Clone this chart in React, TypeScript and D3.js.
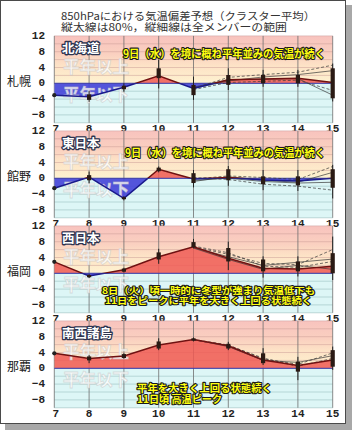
import React from "react";
import * as d3 from "d3";

// forecast days and tick values
const days = [7, 8, 9, 10, 11, 12, 13, 14, 15];
const boxDays = [8, 9, 10, 11, 12, 13, 14, 15];
const memberDays = [11, 12, 13, 14, 15];
const yTicks = [12, 8, 4, 0, -4, -8];
const gridValues = [-10, -8, -6, -4, -2, 0, 2, 4, 6, 8, 10, 12];
const stations = ["札幌", "館野", "福岡", "那覇"];
const regions = ["北海道", "東日本", "西日本", "南西諸島"];
const titleLines = [
  "850hPaにおける気温偏差予想（クラスター平均）",
  "縦太線は80%，縦細線は全メンバーの範囲",
];

// cluster mean anomaly (days 7..15)
const sapporoMean = [-3, -3.4, -1, 1.9, -1.3, 0.9, 1.1, 1.3, 0.2];
const tatenoMean = [-2.5, 0.3, -5.1, 2.3, -0.2, 0.2, -0.4, -0.7, 0];
const fukuokaMean = [2.9, -0.7, 0.9, 4.2, 6.7, 3.8, 1.3, 1.1, 1.8];
const nahaMean = [3.8, 2.5, 3.1, 5.9, 7.3, 5.7, 2.1, 0.7, 2.1];

// 80% range (thick bar), days 8..15
const sapporoBox = [[-4.2, -2.8], [-1.5, -0.6], [1.3, 3.8], [-3.0, -0.4], [-0.4, 2.1], [0, 2.1], [0, 2.1], [-3.8, 3.8]];
const tatenoBox = [[-0.5, 0.8], [-5.3, -4.8], [1.8, 2.7], [-1.2, 1.3], [-0.5, 2.3], [-1.5, 0.5], [-1.8, 0.5], [-2.4, 2.3]];
const fukuokaBox = [[-1.0, -0.4], [0.4, 1.2], [3.5, 5.3], [6.6, 7.9], [3.0, 6.4], [0.5, 3.5], [0.5, 3.0], [0, 5.1]];
const nahaBox = [[2.0, 3.0], [2.6, 3.6], [5.0, 6.8], [7.0, 7.6], [5.0, 6.2], [1.3, 3.8], [-0.85, 1.7], [0.4, 4.6]];

// all-member range (thin whisker), days 8..15
const sapporoRange = [[-4.7, -1.9], [-2.1, 0], [-1.3, 5.9], [-4.2, 1.7], [-1.7, 3.8], [-0.9, 3.4], [-0.9, 3.4], [-4.6, 5.0]];
const tatenoRange = [[-1.3, 1.7], [-5.6, -4.5], [1.5, 3.0], [-2.3, 2.1], [-1.9, 3.1], [-3.0, 2.1], [-3.2, 2.1], [-5.1, 3.4]];
const fukuokaRange = [[-1.2, -0.2], [0.2, 1.4], [2.4, 6.2], [6.3, 8.7], [0.8, 8.0], [-1.1, 4.3], [-0.8, 4.3], [-1.7, 9.3]];
const nahaRange = [[1.3, 3.4], [2.4, 3.8], [4.6, 7.6], [6.8, 7.8], [4.6, 6.7], [0.85, 5.1], [-3.0, 2.9], [-0.4, 5.5]];

// individual cluster lines, days 11..15
const sapporoMembers = [
  [-1.3, 1.5, 2.2, 2.8, 4.6],
  [-1.3, 0.6, 1.6, 2.2, 3.2],
  [-1.6, 0.2, 0.5, 0.8, -1.8],
  [-1.0, 0.9, 1.0, 1.2, -3.0],
];
const tatenoMembers = [
  [-0.2, 0.6, 0.2, -0.3, 3.0],
  [-0.5, 0.0, -0.8, -1.2, -1.0],
  [0.2, -0.3, -1.5, -2.0, -3.0],
  [-0.8, 0.4, -0.5, -1.0, 1.5],
];
const fukuokaMembers = [
  [6.7, 4.8, 2.5, 2.2, 6.0],
  [6.5, 4.2, 2.0, 2.8, 3.6],
  [6.9, 5.2, 1.8, 1.5, 3.0],
  [6.4, 3.5, 1.0, 2.0, 1.0],
];
const nahaMembers = [
  [7.3, 5.9, 2.4, 1.0, 3.9],
  [7.3, 5.5, 2.0, 1.5, 3.2],
  [7.2, 5.8, 2.6, 0.5, 2.5],
];

const commentHokkaido = ["9日（水）を境に概ね平年並みの気温が続く"];
const commentEast = ["9日（水）を境に概ね平年並みの気温が続く"];
const commentWest = ["8日（火）頃一時的に冬型が強まり気温低下も", "11日をピークに平年を大きく上回る状態続く"];
const commentSouth = ["平年を大きく上回る状態続く", "11日頃 高温ピーク"];

const panels = [
  { mean: sapporoMean, box: sapporoBox, range: sapporoRange, members: sapporoMembers, comment: commentHokkaido,
    cx: [123], cy: [53], cw: [202], fs: 11 },
  { mean: tatenoMean, box: tatenoBox, range: tatenoRange, members: tatenoMembers, comment: commentEast,
    cx: [125], cy: [151.7], cw: [200], fs: 11 },
  { mean: fukuokaMean, box: fukuokaBox, range: fukuokaRange, members: fukuokaMembers, comment: commentWest,
    cx: [102, 105], cy: [290, 299.6], cw: [213, 207], fs: 9.2 },
  { mean: nahaMean, box: nahaBox, range: nahaRange, members: nahaMembers, comment: commentSouth,
    cx: [137, 137], cy: [387.3, 398.4], cw: [135, 85], fs: 10 },
];

const W = 352;
const H = 430;
const unit = 3.95;
const jp = "'Noto Sans CJK JP', 'Noto Sans', sans-serif";
const mono = "'Liberation Mono', 'DejaVu Sans Mono', monospace";

const x = d3.scaleLinear().domain([7, 15]).range([54.3, 332.7]);

const Panel = ({ p, i }) => {
  const zero = 83.3 + 95 * i;
  const y = d3.scaleLinear().domain([-10, 12]).range([zero + 10 * unit, zero - 12 * unit]);
  const top = y(12);
  const bottom = y(-10);
  const left = x(7);
  const right = x(15);

  const area = d3.area<number>().x((d, k) => x(days[k])).y0(y(0)).y1(d => y(d));
  const line = d3.line<number>().x((d, k) => x(days[k])).y(d => y(d));
  const memberLine = d3.line<number>().x((d, k) => x(memberDays[k])).y(d => y(d));

  return (
    <g>
      <defs>
        <clipPath id={`pos${i}`}>
          <rect x={left} y={top} width={right - left} height={y(0) - top} />
        </clipPath>
        <clipPath id={`neg${i}`}>
          <rect x={left} y={y(0)} width={right - left} height={bottom - y(0)} />
        </clipPath>
      </defs>

      {/* background bands */}
      <rect x={left} y={top} width={right - left} height={y(0) - top} fill="url(#warm)" />
      <rect x={left} y={y(0)} width={right - left} height={bottom - y(0)} fill="#ddf6f6" />

      {gridValues.map(v => (
        <line key={v} x1={left} x2={right} y1={y(v)} y2={y(v)}
          stroke={v > 0 ? "#c89a96" : "#88b4b4"} strokeOpacity={0.6} strokeWidth={0.8} />
      ))}
      {days.map(d => (
        <line key={d} x1={x(d)} x2={x(d)} y1={top} y2={bottom} stroke="#6f6f6f" strokeWidth={0.8} />
      ))}

      {/* region label */}
      <text x={62} y={y(9)} dominantBaseline="central" fontFamily={jp} fontSize={12.5} fontWeight="bold"
        fill="#fff" stroke="#2d3450" strokeWidth={2.6} paintOrder="stroke" strokeLinejoin="round">
        {regions[i]}
      </text>

      {/* anomaly fills */}
      <path d={area(p.mean)} fill="#ef5a55" fillOpacity={0.85} clipPath={`url(#pos${i})`} />
      <path d={area(p.mean)} fill="#4444d8" fillOpacity={0.9} clipPath={`url(#neg${i})`} />
      <line x1={left} x2={right} y1={y(0)} y2={y(0)} stroke="#3a3aa8" strokeWidth={1} />

      {/* watermarks */}
      <text x={63} y={y(4.3)} dominantBaseline="central" fontFamily={jp} fontSize={16.5} fontWeight="bold"
        fill="#fff" fillOpacity={0.8} stroke="#c4c4c4" strokeOpacity={0.55} strokeWidth={0.9}>平年以上</text>
      <text x={63} y={y(-2.8)} dominantBaseline="central" fontFamily={jp} fontSize={16.5} fontWeight="bold"
        fill="#fff" fillOpacity={0.8} stroke="#c4c4c4" strokeOpacity={0.55} strokeWidth={0.9}>平年以下</text>

      {/* members */}
      {p.members.map((m, k) => (
        <path key={k} d={memberLine(m)} fill="none" stroke="#3a3a3a" strokeWidth={0.7}
          strokeDasharray={k % 2 === 0 ? "3,2" : null} />
      ))}

      {/* mean line */}
      <path d={line(p.mean)} fill="none" stroke="#701212" strokeWidth={1.5} clipPath={`url(#pos${i})`} />
      <path d={line(p.mean)} fill="none" stroke="#1a1a8c" strokeWidth={1.5} clipPath={`url(#neg${i})`} />

      {/* ranges */}
      {boxDays.map((d, k) => (
        <g key={d}>
          <line x1={x(d)} x2={x(d)} y1={y(p.range[k][0])} y2={y(p.range[k][1])} stroke="#222" strokeWidth={1} />
          <line x1={x(d)} x2={x(d)} y1={y(p.box[k][0])} y2={y(p.box[k][1])} stroke="#2a1a14" strokeWidth={4.2} />
        </g>
      ))}
      <circle cx={x(7)} cy={y(p.mean[0])} r={2.1} fill="#222" />

      {/* axes labels */}
      {yTicks.map(v => (
        <text key={v} x={45} y={y(v)} textAnchor="end" dominantBaseline="central" fontFamily={mono}
          fontSize={11} fontWeight="bold" fill="#222">{v < 0 ? `−${-v}` : v}</text>
      ))}
      {days.map(d => (
        <text key={d} x={x(d) + (d === 7 ? 1.5 : 0)} y={bottom + 5.8} textAnchor="middle" dominantBaseline="central"
          fontFamily={mono} fontSize={11} fontWeight="bold" fill="#222">{d}</text>
      ))}
      <text x={7} y={zero - 3} dominantBaseline="central" fontFamily={jp} fontSize={12} fill="#222">
        {stations[i]}
      </text>

      {/* comment */}
      {p.comment.map((c, k) => (
        <text key={k} x={p.cx[k]} y={p.cy[k]} dominantBaseline="central" fontFamily={jp} fontSize={p.fs}
          fontWeight="bold" fill="#ffff10" stroke="#1a1a1a" strokeWidth={2.2} paintOrder="stroke"
          strokeLinejoin="round" textLength={p.cw[k]} lengthAdjust="spacingAndGlyphs">{c}</text>
      ))}
    </g>
  );
};

const App = () => {
  return (
    <svg width={W} height={H} style={{ position: "absolute", left: 0, top: 0, background: "#fff" }}>
      <defs>
        <linearGradient id="warm" x1="0" y1="0" x2="0" y2="1">
          <stop offset="0" stopColor="#f8c3be" />
          <stop offset="0.38" stopColor="#fad0c0" />
          <stop offset="0.62" stopColor="#fde2c6" />
          <stop offset="1" stopColor="#fef2d0" />
        </linearGradient>
      </defs>
      <rect x={5} y={5} width={347} height={425} fill="#a8a8a8" />
      <rect x={0.5} y={0.5} width={345} height={423} fill="#fff" stroke="#4a4a4a" />
      {titleLines.map((t, k) => (
        <text key={k} x={61} y={15 + k * 11.7} dominantBaseline="central" fontFamily={jp} fontSize={10.5}
          fill="#333" textLength={k === 0 ? 254 : 226} lengthAdjust="spacingAndGlyphs">{t}</text>
      ))}
      {panels.map((p, i) => (
        <Panel key={i} p={p} i={i} />
      ))}
    </svg>
  );
};

export default App;
